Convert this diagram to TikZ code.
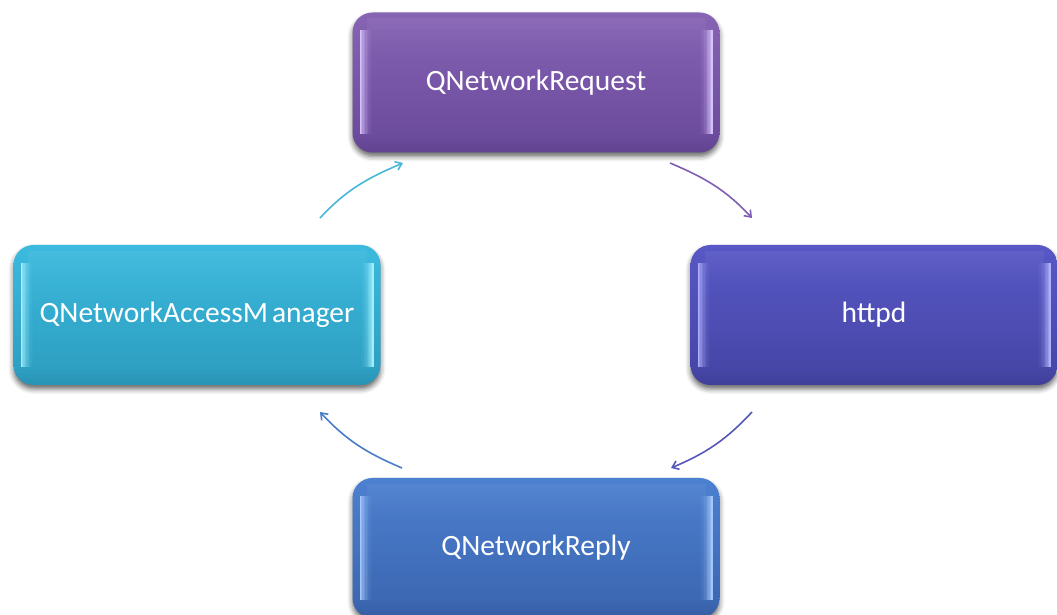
\documentclass[tikz,border=0pt]{standalone}
\usepackage{fontspec}
\setmainfont{Carlito}
\usetikzlibrary{arrows.meta,shadows.blur}

\definecolor{reqtop}{HTML}{8764B4}
\definecolor{reqbot}{HTML}{68489A}
\definecolor{reqhi}{HTML}{DCC8FF}
\definecolor{httptop}{HTML}{5858C6}
\definecolor{httpbot}{HTML}{4444A4}
\definecolor{httphi}{HTML}{B4B4FF}
\definecolor{mgrtop}{HTML}{3CBADE}
\definecolor{mgrbot}{HTML}{2C9CBE}
\definecolor{mgrhi}{HTML}{A8F2FF}
\definecolor{reptop}{HTML}{4C80D0}
\definecolor{repbot}{HTML}{3A64AE}
\definecolor{rephi}{HTML}{AACCFF}
\definecolor{arrcyan}{HTML}{48B6D8}
\definecolor{arrpurple}{HTML}{7E5EB2}
\definecolor{arrindigo}{HTML}{5456BA}
\definecolor{arrblue}{HTML}{4A7CC8}

\tikzset{
  gbox/.style n args={3}{
    rounded corners=20pt, minimum width=367pt, minimum height=140pt,
    inner sep=0pt, text=white, font=\fontsize{29.5}{35}\selectfont,
    top color=#1, bottom color=#2,
    blur shadow={shadow xshift=0pt, shadow yshift=-4pt,
      shadow blur radius=5pt, shadow opacity=60},
    path picture={
      % bevel: bright line just inside each side, fading towards the middle
      \foreach \i in {0,...,9}{
        \pgfmathsetmacro{\op}{0.95*(1-\i/10)^2.2}
        \fill[#3, fill opacity=\op, sharp corners]
          ([xshift={7pt+1.4pt*\i},yshift=-18pt]path picture bounding box.north west)
          rectangle ([xshift={8.4pt+1.4pt*\i},yshift=18pt]path picture bounding box.south west);
        \fill[#3, fill opacity=\op, sharp corners]
          ([xshift={-7pt-1.4pt*\i},yshift=-18pt]path picture bounding box.north east)
          rectangle ([xshift={-8.4pt-1.4pt*\i},yshift=18pt]path picture bounding box.south east);
      }
      % sheen near the top, darker rim near the bottom
      \foreach \i in {0,...,7}{
        \pgfmathsetmacro{\op}{0.05*(1-\i/8)}
        \fill[white, fill opacity=\op, sharp corners]
          ([xshift=14pt,yshift={-6pt-4pt*\i}]path picture bounding box.north west)
          rectangle ([xshift=-14pt,yshift={-10pt-4pt*\i}]path picture bounding box.north east);
        \fill[black, fill opacity=\op, sharp corners]
          ([yshift={2pt*\i}]path picture bounding box.south west)
          rectangle ([yshift={2pt*\i+2pt}]path picture bounding box.south east);
      }
    }
  },
  flow/.style={line width=1.6pt, -{Straight Barb[length=6pt,width=9pt]}}
}

\begin{document}
\begin{tikzpicture}[x=1pt,y=1pt]
  \useasboundingbox (0,0) rectangle (1057,615);

  \node[gbox={reqtop}{reqbot}{reqhi}]   (req)  at (536,532.5) {QNetworkRequest};
  \node[gbox={httptop}{httpbot}{httphi}] (http) at (874,300)   {httpd};
  \node[gbox={mgrtop}{mgrbot}{mgrhi}]   (mgr)  at (197,300)   {QNetworkAccessM\kern4pt anager};
  \node[gbox={reptop}{repbot}{rephi}]   (rep)  at (536,67)    {QNetworkReply};

  % arc end points of the cycle
  \coordinate (mgrout)  at (320,397);
  \coordinate (reqin)   at (403,452);
  \coordinate (reqout)  at (670,452);
  \coordinate (httpin)  at (752,397);
  \coordinate (httpout) at (752,203);
  \coordinate (repin)   at (671,147);
  \coordinate (repout)  at (402,147);
  \coordinate (mgrin)   at (320,203);

  \draw[flow, arrcyan]   (mgrout)  to[out=47,  in=203] (reqin);
  \draw[flow, arrpurple] (reqout)  to[out=-23, in=133] (httpin);
  \draw[flow, arrindigo] (httpout) to[out=-133,in=23]  (repin);
  \draw[flow, arrblue]   (repout)  to[out=157, in=-47] (mgrin);
\end{tikzpicture}
\end{document}
